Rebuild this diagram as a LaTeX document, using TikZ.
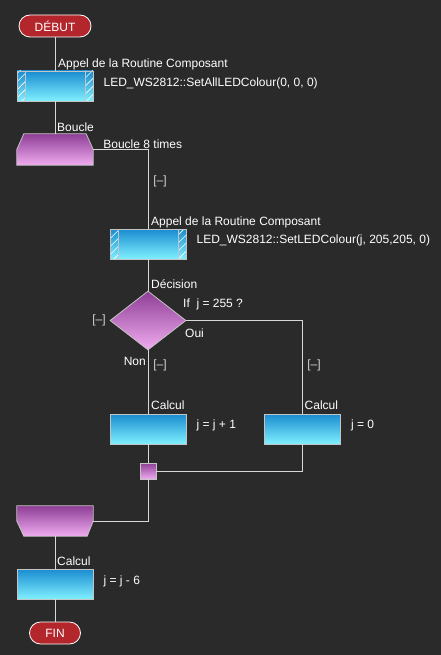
\documentclass[tikz,border=0pt]{standalone}
\usepackage{fontspec}
\setmainfont{Liberation Sans}
\usetikzlibrary{shapes.geometric,patterns.meta}
\definecolor{bgdark}{HTML}{2A2A2A}
\definecolor{linegray}{HTML}{D8D8D8}
\definecolor{rim}{HTML}{C4C4C4}
\definecolor{termred}{HTML}{B3262C}
\definecolor{calctop}{HTML}{1A8CD0}
\definecolor{calcbot}{HTML}{80F0FF}
\definecolor{looptop}{HTML}{8E3E96}
\definecolor{loopbot}{HTML}{F0ACF0}
\definecolor{brgray}{HTML}{D4D4D4}

\begin{document}
\begin{tikzpicture}[
  x=1pt, y=-1pt,
  every node/.style={font=\fontsize{12}{14}\selectfont, text=white},
  term/.style={rectangle, rounded corners=11pt, fill=termred, draw=white, line width=.8pt, minimum height=22pt, inner sep=0pt},
  calcbox/.style={rectangle, top color=calctop, bottom color=calcbot, draw=rim, line width=.8pt, minimum width=76pt, minimum height=30pt, inner sep=0pt},
  callbox/.style={calcbox, path picture={
    \fill[pattern={Lines[angle=45,distance=5.7pt,line width=.6pt]}, pattern color=white]
      (path picture bounding box.north west) rectangle ([xshift=8pt]path picture bounding box.south west);
    \fill[pattern={Lines[angle=45,distance=5.7pt,line width=.6pt]}, pattern color=white]
      (path picture bounding box.north east) rectangle ([xshift=-8pt]path picture bounding box.south east);
    \draw[rim, line width=.6pt] ([xshift=8pt]path picture bounding box.north west) -- ([xshift=8pt]path picture bounding box.south west);
    \draw[rim, line width=.6pt] ([xshift=-8pt]path picture bounding box.north east) -- ([xshift=-8pt]path picture bounding box.south east);
  }},
  loopbox/.style={rectangle, minimum width=76pt, minimum height=31pt, inner sep=0pt},
  loopshade/.style={top color=looptop, bottom color=loopbot, draw=rim, line width=.8pt},
  decision/.style={diamond, top color=looptop, bottom color=loopbot, draw=rim, line width=.8pt, minimum width=76pt, minimum height=59pt, inner sep=0pt},
  joint/.style={rectangle, top color=looptop, bottom color=loopbot, draw=rim, line width=.8pt, minimum size=16pt, inner sep=0pt},
  lbl/.style={anchor=base west, inner sep=0pt},
  brk/.style={text=brgray, inner sep=0pt},
  flow/.style={draw=linegray, line width=.8pt}
]
\fill[bgdark] (0,0) rectangle (441,655);

\node[term, minimum width=72pt] (debut) at (55,26) {DÉBUT};
\node[callbox] (call1) at (55,86) {};
\node[loopbox] (loopA) at (55,149.5) {};
\shade[loopshade] (loopA.south west) -- (loopA.west) -- ([xshift=7pt]loopA.north west)
  -- ([xshift=-7pt]loopA.north east) -- (loopA.east) -- (loopA.south east) -- cycle;
\node[callbox] (call2) at (148,244) {};
\node[decision] (dec) at (148,320.5) {};
\node[calcbox] (calcA) at (148,429) {};
\node[calcbox] (calcB) at (302.5,429) {};
\node[joint] (join) at (148,471) {};
\node[loopbox, minimum height=30pt] (loopB) at (55,521) {};
\shade[loopshade] (loopB.north west) -- (loopB.west) -- ([xshift=7pt]loopB.south west)
  -- ([xshift=-6pt]loopB.south east) -- (loopB.east) -- (loopB.north east) -- cycle;
\node[calcbox] (calc3) at (55,584) {};
\node[term, minimum width=51pt] (fin) at (55,633) {FIN};

\node[lbl] (app1) at ([shift={(3,-3)}]call1.north) {Appel de la Routine Composant};
\node[lbl] (txt1) at ([shift={(10,1)}]call1.east) {LED\_WS2812::SetAllLEDColour(0, 0, 0)};
\node[lbl] (bcl) at ([shift={(2,-2.5)}]loopA.north) {Boucle};
\node[lbl] (bcltxt) at ([shift={(10,-0.5)}]loopA.east) {Boucle 8 times};
\node[brk] (brA) at (160,181) {[–]};
\node[lbl] (app2) at ([shift={(3,-3)}]call2.north) {Appel de la Routine Composant};
\node[lbl] (txt2) at ([shift={(10,-1)}]call2.east) {LED\_WS2812::SetLEDColour(j, 205,205, 0)};
\node[lbl] (dcs) at ([shift={(3,-2)}]dec.north) {Décision};
\node[lbl] (cond) at (183,307) {If~ j = 255 ?};
\node[lbl] (oui) at (185,337) {Oui};
\node[brk] (brB) at (99,320) {[–]};
\node[lbl, anchor=base east] (non) at (146,365) {Non};
\node[brk] (brC) at (160,365) {[–]};
\node[brk] (brD) at (314,365) {[–]};
\node[lbl] (clA) at ([shift={(3,-4)}]calcA.north) {Calcul};
\node[lbl] (txtA) at ([shift={(10,-1)}]calcA.east) {j = j + 1};
\node[lbl] (clB) at ([shift={(2,-4)}]calcB.north) {Calcul};
\node[lbl] (txtB) at ([shift={(10,-1)}]calcB.east) {j = 0};
\node[lbl] (cl3) at ([shift={(2,-3.5)}]calc3.north) {Calcul};
\node[lbl] (txt3) at ([shift={(10,0)}]calc3.east) {j = j - 6};

\draw[flow] (debut) -- (call1);
\draw[flow] (call1) -- (loopA);
\draw[flow] (loopA.east) -| (call2.north);
\draw[flow] (call2) -- (dec);
\draw[flow] (dec.east) -| (calcB.north);
\draw[flow] (dec) -- (calcA);
\draw[flow] (calcA) -- (join);
\draw[flow] (calcB.south) |- (join.east);
\draw[flow] (join.south) |- (loopB.east);
\draw[flow] (loopB) -- (calc3);
\draw[flow] (calc3) -- (fin);
\end{tikzpicture}
\end{document}
